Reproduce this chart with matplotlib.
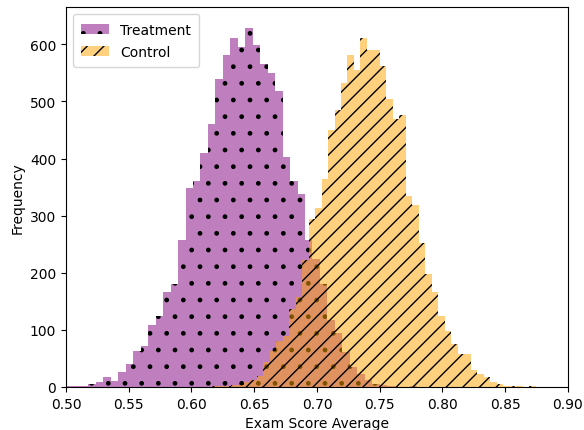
import numpy as np
import matplotlib
matplotlib.use("Agg")
import matplotlib.pyplot as plt

# treatment: 50 bins starting at 0.50
treat_start = 0.50
treat_width = 0.005952
treat_counts = [1, 1, 2, 5, 9, 18, 11, 27, 41, 63,
                72, 108, 124, 167, 181, 257, 349, 360, 410, 461,
                539, 582, 611, 595, 628, 599, 565, 550, 518, 402,
                361, 338, 258, 224, 180, 117, 95, 62, 35, 22,
                12, 6, 3, 1, 0, 0, 1, 0, 0, 0]

# control: 50 bins starting at ~0.6157
ctrl_start = 0.6157
ctrl_width = 0.005171
ctrl_counts = [1, 1, 2, 3, 4, 8, 12, 20, 43, 63,
               80, 90, 136, 158, 222, 294, 314, 364, 450, 485,
               533, 581, 556, 611, 591, 591, 562, 504, 470, 476,
               335, 318, 253, 198, 166, 124, 98, 75, 58, 58,
               29, 23, 17, 9, 6, 2, 1, 1, 0, 1]

treat_edges = treat_start + treat_width * np.arange(len(treat_counts) + 1)
ctrl_edges = ctrl_start + ctrl_width * np.arange(len(ctrl_counts) + 1)
treat_centers = (treat_edges[:-1] + treat_edges[1:]) / 2
ctrl_centers = (ctrl_edges[:-1] + ctrl_edges[1:]) / 2

fig = plt.figure(figsize=(5.84, 4.31), dpi=100)
ax = fig.add_axes([0.113, 0.0998, 0.8596, 0.881])

ax.hist(treat_centers, bins=treat_edges, weights=treat_counts,
        color='purple', alpha=0.5, hatch='.', label='Treatment')
ax.hist(ctrl_centers, bins=ctrl_edges, weights=ctrl_counts,
        color='orange', alpha=0.5, hatch='//', label='Control')

ax.set_xlim(0.5, 0.9)
ax.set_ylim(0, 665)
ax.set_xlabel('Exam Score Average')
ax.set_ylabel('Frequency')
ax.legend(loc='upper left', borderpad=0.6, labelspacing=0.6)

fig.savefig('out.png', dpi=100)
